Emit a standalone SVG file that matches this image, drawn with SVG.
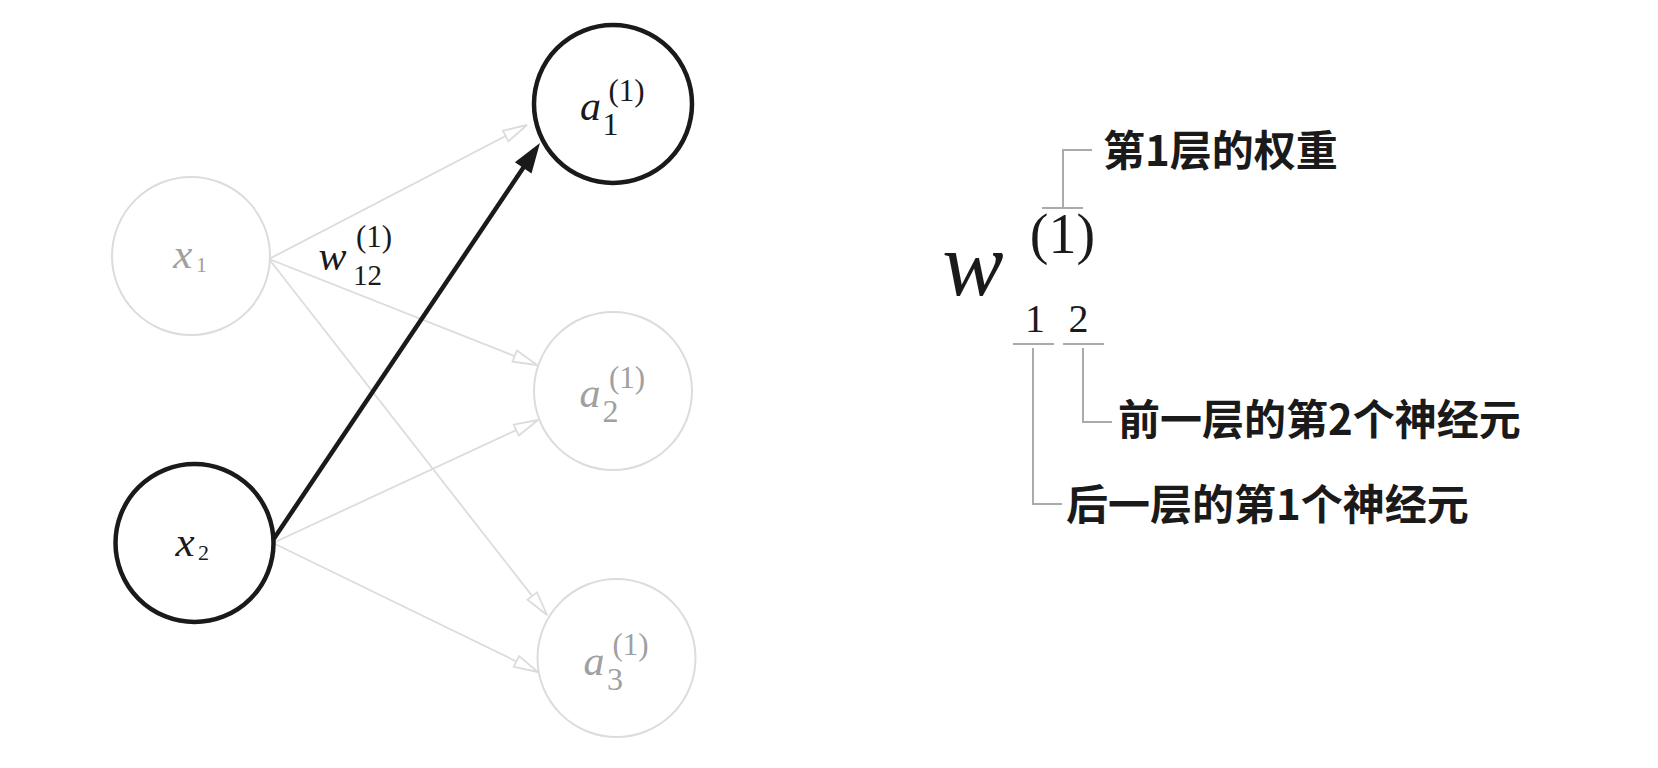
<svg xmlns="http://www.w3.org/2000/svg" width="1658" height="768" viewBox="0 0 1658 768">
<style>
.gc{fill:#fff;stroke:#dcdcdc;stroke-width:2}
.bc{fill:#fff;stroke:#1a1a1a;stroke-width:4.5}
.gl{stroke:#dcdcdc;stroke-width:1.8;fill:none}
.bl{stroke:#1a1a1a;stroke-width:4.5;fill:none}
.m{font-family:"Liberation Serif","DejaVu Serif",serif;text-anchor:middle}
.i{font-style:italic}
.g{fill:#a0a0a0}
.k{fill:#1a1a1a}
.ann{stroke:#aaaaaa;stroke-width:2;fill:none}
.cjk{font-family:"Noto Sans CJK SC","Noto Sans",sans-serif;font-weight:bold;font-size:42px;fill:#1a1a1a}
</style>
<defs>
<marker id="hollow" markerUnits="userSpaceOnUse" markerWidth="30" markerHeight="16" viewBox="0 0 30 16" refX="25" refY="8" orient="auto" overflow="visible">
<path d="M1,2 L25,8 L1,14 Z" fill="#fff" stroke="#dcdcdc" stroke-width="1.8" stroke-linejoin="miter"/>
</marker>
<marker id="solid" markerUnits="userSpaceOnUse" markerWidth="32" markerHeight="22" viewBox="0 0 32 22" refX="10" refY="11" orient="auto" overflow="visible">
<path d="M0,1 L30,11 L0,21 Z" fill="#1a1a1a"/>
</marker>
</defs>
<g id="connectors">
<line class="gl" x1="269" y1="259" x2="527" y2="125" marker-end="url(#hollow)"/>
<line class="gl" x1="269" y1="259" x2="537" y2="365" marker-end="url(#hollow)"/>
<line class="gl" x1="269" y1="259" x2="547" y2="615" marker-end="url(#hollow)"/>
<line class="gl" x1="273" y1="543" x2="538" y2="420" marker-end="url(#hollow)"/>
<line class="gl" x1="273" y1="543" x2="538" y2="672" marker-end="url(#hollow)"/>
<line class="bl" x1="273" y1="540" x2="528.8" y2="159.6" marker-end="url(#solid)"/>
</g>
<g id="x1">
<circle class="gc" cx="191" cy="256" r="79"/>
<text class="m i g" x="182.7" y="268" font-size="43">x</text>
<text class="m g" x="201.5" y="272" font-size="22">1</text>
</g>
<g id="x2">
<circle class="bc" cx="194.5" cy="543" r="79"/>
<text class="m i k" x="185" y="556" font-size="43">x</text>
<text class="m k" x="203.5" y="560" font-size="22">2</text>
</g>
<g id="a1">
<circle class="bc" cx="613" cy="104" r="79"/>
<text class="m i k" x="590.5" y="120" font-size="42">a</text>
<text class="m k" x="610.5" y="135" font-size="32">1</text>
<text class="m k" x="626.5" y="101" font-size="31">(1)</text>
</g>
<g id="a2">
<circle class="gc" cx="613" cy="391" r="79"/>
<text class="m i g" x="590" y="407" font-size="42">a</text>
<text class="m g" x="610.5" y="422" font-size="32">2</text>
<text class="m g" x="627" y="388" font-size="31">(1)</text>
</g>
<g id="a3">
<circle class="gc" cx="616.5" cy="658" r="79"/>
<text class="m i g" x="594" y="675" font-size="42">a</text>
<text class="m g" x="615" y="690" font-size="32">3</text>
<text class="m g" x="630.5" y="655" font-size="31">(1)</text>
</g>
<g id="w-label">
<text class="m i k" x="332.5" y="270" font-size="42">w</text>
<text class="m k" x="367.5" y="285" font-size="29">12</text>
<text class="m k" x="374" y="247" font-size="31">(1)</text>
</g>
<g id="notation">
<text class="m i k" x="973" y="295" font-size="92">w</text>
<text class="m k" x="1062.5" y="253" font-size="56">(1)</text>
<text class="m k" x="1035" y="332" font-size="40">1</text>
<text class="m k" x="1078.5" y="332" font-size="40">2</text>
</g>
<g id="annotation-layer">
<path class="ann" d="M1042,208 H1083 M1063,208 V150 H1092"/>
<text class="cjk" x="1103" y="166">第1层的权重</text>
</g>
<g id="annotation-prev">
<path class="ann" d="M1063,344 H1104 M1083,348 V422 H1112"/>
<text class="cjk" x="1118" y="435">前一层的第2个神经元</text>
</g>
<g id="annotation-next">
<path class="ann" d="M1013,344 H1054 M1033,348 V504 H1062"/>
<text class="cjk" x="1066" y="520">后一层的第1个神经元</text>
</g>
</svg>
